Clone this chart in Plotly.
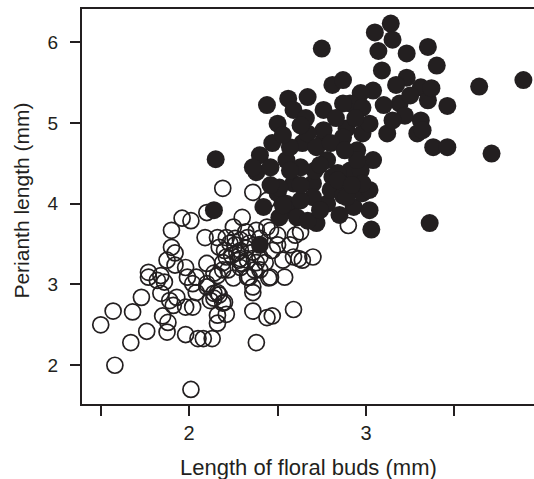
import plotly.graph_objects as go

# Open circles (bud length, perianth length) in mm
open_x = [1.50, 1.58, 1.57, 1.68, 1.76, 1.67, 1.875, 1.98, 2.05, 2.08, 2.13, 2.16, 2.21, 2.36, 2.44, 2.47,
          2.59, 2.38, 2.36, 2.02, 1.98, 1.91, 1.85, 1.88, 1.73, 1.84, 1.89, 1.93, 2.04, 2.12, 2.17, 2.19,
          2.01, 2.19, 2.36, 2.10, 1.96, 2.01, 1.90, 2.09, 2.16, 2.21, 2.30, 2.32, 2.26, 2.40, 2.46, 2.50,
          2.60, 2.63, 2.47, 2.50, 2.59, 2.70, 2.64, 2.90, 1.90, 1.92, 1.875, 1.77, 1.77, 1.84, 1.86, 1.92,
          1.98, 2.04, 2.02, 2.10, 2.14, 2.16, 2.22, 2.29, 2.33, 2.36, 2.45, 2.54, 2.17, 2.21, 2.29, 2.33,
          2.40, 2.25, 2.44, 1.82, 1.99, 2.10, 2.14, 2.19, 2.23, 2.27, 2.30, 2.34, 2.40, 2.46, 2.38, 2.44,
          2.62, 2.25, 2.16, 2.14, 2.16, 2.10, 2.20, 2.26, 2.29, 2.32, 2.34, 2.24, 2.28, 2.36, 2.38, 2.20,
          2.33, 2.29, 2.19, 2.37, 2.43, 2.53, 2.57]
open_y = [2.50, 2.00, 2.67, 2.66, 2.42, 2.28, 2.41, 2.38, 2.33, 2.33, 2.33, 2.52, 2.63, 2.67, 2.59, 2.61,
          2.69, 2.28, 2.90, 2.72, 2.72, 2.74, 2.61, 2.53, 2.84, 2.89, 2.80, 2.84, 2.90, 2.80, 2.87, 2.77,
          1.70, 4.19, 4.14, 3.89, 3.82, 3.79, 3.67, 3.58, 3.58, 3.58, 3.83, 3.65, 3.57, 3.57, 3.67, 3.61,
          3.61, 3.65, 3.42, 3.49, 3.34, 3.34, 3.30, 3.73, 3.46, 3.39, 3.30, 3.15, 3.09, 3.11, 3.03, 3.24,
          3.21, 3.09, 3.01, 2.97, 2.89, 3.11, 3.18, 3.21, 3.09, 2.97, 3.08, 3.09, 3.46, 3.34, 3.42, 3.30,
          3.34, 3.71, 3.71, 3.05, 3.09, 3.26, 3.14, 3.18, 3.51, 3.39, 3.26, 3.09, 3.18, 3.09, 3.67, 4.04,
          3.32, 3.08, 2.62, 2.83, 2.90, 3.01, 2.78, 3.49, 3.55, 3.45, 3.51, 3.36, 3.30, 3.40, 3.27, 3.42,
          3.58, 3.32, 3.27, 3.18, 3.27, 3.30, 3.49]

# Filled circles
filled_x = [3.14, 3.05, 3.15, 3.07, 2.75, 3.23, 3.35, 3.40, 3.09, 3.64, 3.89, 3.46, 3.29, 3.38, 3.46, 3.71,
            2.44, 2.56, 2.67, 2.81, 2.87, 3.04, 2.50, 2.47, 2.89, 3.12, 2.40, 2.15, 3.23, 3.31, 3.35, 3.19,
            2.97, 2.91, 3.10, 3.31, 3.32, 2.98, 3.36, 3.03, 2.14, 2.38, 2.42, 2.50, 2.57, 2.72, 2.78, 2.93,
            2.98, 2.40, 2.59, 2.70, 2.81, 2.91, 3.04, 2.51, 2.36, 2.46, 2.55, 2.64, 2.76, 2.87, 2.95, 2.97,
            2.84, 2.71, 2.63, 2.51, 2.70, 2.80, 2.55, 2.61, 2.67, 2.87, 2.59, 2.66, 2.76, 2.87, 2.98, 3.02,
            2.76, 2.67, 2.57, 2.72, 2.80, 3.02, 3.02, 2.78, 2.84, 2.74, 2.63, 2.95, 2.98, 2.89, 3.17, 3.25,
            3.22, 3.15, 3.37, 2.83, 2.94, 2.88, 2.53, 2.63, 2.92, 2.74, 2.57, 2.63, 2.46, 2.53, 2.85]
filled_y = [6.23, 6.12, 6.03, 5.89, 5.92, 5.86, 5.94, 5.71, 5.65, 5.45, 5.53, 5.21, 4.87, 4.70, 4.70, 4.62,
            5.22, 5.30, 5.32, 5.47, 5.53, 5.40, 4.99, 4.75, 4.93, 4.87, 4.60, 4.55, 5.56, 5.44, 5.28, 5.24,
            5.37, 5.24, 5.22, 5.03, 4.91, 4.87, 3.76, 3.68, 3.92, 4.39, 3.96, 4.13, 3.92, 3.76, 4.00, 3.96,
            4.13, 3.49, 4.25, 4.25, 4.33, 4.41, 4.54, 3.83, 4.45, 4.45, 4.54, 4.75, 4.78, 4.82, 4.66, 4.41,
            4.38, 4.41, 4.45, 4.20, 4.08, 4.17, 4.00, 3.83, 3.79, 4.10, 5.16, 5.06, 5.16, 5.24, 5.19, 4.99,
            4.91, 4.87, 4.70, 4.70, 4.75, 4.17, 3.92, 4.54, 4.29, 3.92, 4.04, 4.54, 4.25, 4.08, 5.47, 5.34,
            5.09, 5.03, 5.43, 5.06, 5.06, 4.66, 4.85, 4.97, 4.23, 4.48, 4.41, 4.23, 4.23, 3.98, 3.86]

x_ticks = [1.5, 2, 2.5, 3, 3.5]
x_labels = ["", "2", "", "3", ""]
y_ticks = [2, 3, 4, 5, 6]
y_labels = ["2", "3", "4", "5", "6"]

INK = "#231f20"
FONT = "Liberation Sans, Arial, sans-serif"

fig = go.Figure()
fig.add_trace(go.Scatter(
    x=open_x, y=open_y, mode="markers",
    marker=dict(symbol="circle-open", size=16, color=INK, line=dict(width=1.7, color=INK)),
    showlegend=False, hoverinfo="skip"))
fig.add_trace(go.Scatter(
    x=filled_x, y=filled_y, mode="markers",
    marker=dict(symbol="circle", size=18, color=INK, line=dict(width=0)),
    showlegend=False, hoverinfo="skip"))

fig.update_layout(
    width=534, height=479,
    margin=dict(l=82, r=0, t=9, b=75),
    paper_bgcolor="white", plot_bgcolor="white",
    font=dict(family=FONT, color=INK),
    xaxis=dict(
        range=[1.394, 3.95], tickvals=x_ticks, ticktext=x_labels,
        ticks="outside", ticklen=10, tickwidth=1.6, tickcolor=INK,
        showline=True, linewidth=2, linecolor=INK, mirror=True,
        showgrid=False, zeroline=False, automargin=False,
        tickfont=dict(size=20),
    ),
    yaxis=dict(
        range=[1.52, 6.41], tickvals=y_ticks, ticktext=y_labels,
        ticks="outside", ticklen=10, tickwidth=1.6, tickcolor=INK,
        showline=True, linewidth=2, linecolor=INK, mirror=False,
        showgrid=False, zeroline=False, automargin=False,
        tickfont=dict(size=19), ticklabelstandoff=8,
    ),
    annotations=[
        dict(text="Length of floral buds (mm)", xref="paper", yref="paper",
             x=0.5, y=-0.1595, xanchor="center", yanchor="middle",
             showarrow=False, font=dict(size=22, color=INK)),
        dict(text="Perianth length (mm)", xref="paper", yref="paper",
             x=-0.1327, y=0.515, xanchor="center", yanchor="middle", textangle=-90,
             showarrow=False, font=dict(size=21, color=INK)),
    ],
)

fig.write_html("out.html",
               config={"displayModeBar": False},
               post_script="document.body.style.margin='0';document.body.style.overflow='hidden';")
